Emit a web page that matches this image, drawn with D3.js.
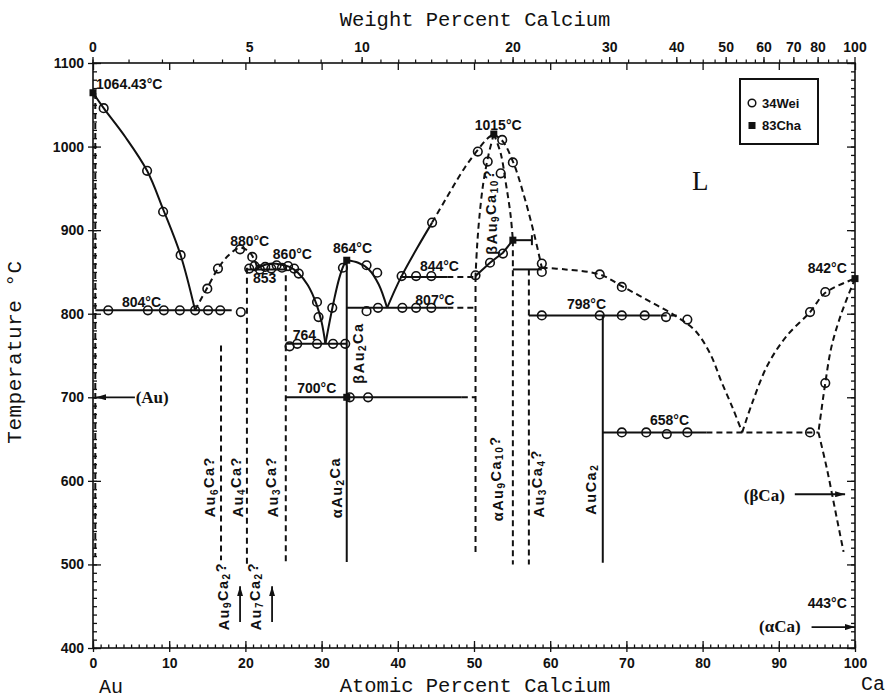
<!DOCTYPE html>
<html>
<head>
<meta charset="utf-8">
<script src="https://cdn.jsdelivr.net/npm/d3@7"></script>
<style>
body { margin: 0; background: #fff; }
text { font-family: "Liberation Sans", Arial, sans-serif; font-weight: bold; fill: #111; }
text.mono { font-family: "Liberation Mono", "DejaVu Sans Mono", monospace; font-weight: normal; }
text.serif { font-family: "Liberation Serif", "DejaVu Serif", serif; }
</style>
</head>
<body>
<svg id="chart" width="885" height="700"></svg>
<script>
// Au-Ca phase diagram (at.% Ca vs temperature)
//
var tempTicks = d3.range(400, 1101, 100);
var atTicks = d3.range(0, 101, 10);
var wtTicks = [0, 5, 10, 20, 30, 40, 50, 60, 70, 80, 100];

// solid smooth boundaries [at.% Ca, degC]
var auLiquidus = [[0,1064.43],[1.4,1046],[4.2,1012],[7.1,971],[9.2,925],[11.5,870],[13.4,804]];
var liq860 = [[21.3,853],[22.4,858],[23.5,860],[24.6,859],[25.8,856],[26.9,849],[28.2,834],[29.3,812],[30,790],[30.5,764]];
var au2CaLeft = [[30.5,764],[31,788],[31.6,815],[32.3,842],[32.9,858],[33.3,864]];
var au2CaRight = [[33.3,864],[34.8,861],[36.2,853],[37.5,835],[38.6,807]];
var liqRise = [[38.6,807],[39.6,828],[40.5,845],[42.5,878],[44.5,909]];

// dashed smooth boundaries
var dome880 = [[13.4,804],[14.2,818],[15,831],[16.4,854],[17.8,870],[19.3,879],[20.5,874],[21.3,862],[21.6,853]];
var liqTop = [[44.5,909],[46.8,945],[48.8,975],[50.5,996],[51.8,1010],[52.6,1015]];
var innerLeft = [[52.6,1015],[51.9,990],[51.2,955],[50.7,915],[50.4,880],[50.2,845]];
var innerRight = [[52.6,1015],[53.5,992],[54.2,955],[54.8,918],[55.1,888]];
var outerRight = [[52.6,1015],[53.8,1006],[55.2,980],[56.6,940],[57.9,895],[58.9,855]];
var caRichLiq = [[58.9,855],[62,853],[66.5,847],[69.4,833],[73,815],[76.5,797],[79,780],[81,752],[82.5,718],[84,686],[85.2,658]];
var caLiq = [[85.2,658],[86.5,693],[88.5,738],[91,773],[94.1,802],[96.1,825],[100,842]];
var caSolvusHigh = [[100,842],[98.2,800],[96.9,760],[96.1,717],[95.6,685],[95.2,658]];
var caSolvusLow = [[95.2,658],[96.3,615],[97.4,565],[98.5,515]];

// straight solid lines
var solidSegs = [
  [[0.3,804],[18.2,804]],
  [[20.2,853],[25.3,853]],
  [[25.3,764],[33.3,764]],
  [[25.3,700],[48.4,700]],
  [[33.3,807],[46.5,807]],
  [[40.3,844],[46.5,844]],
  [[33.3,864],[33.3,503]],
  [[50.2,845],[52.1,861],[53.8,873],[55.1,888]],
  [[55.1,888],[57.6,888]],
  [[57.6,882],[57.6,894]],
  [[55.1,853],[58.9,853]],
  [[57.2,798],[74.5,798]],
  [[66.9,798],[66.9,502]],
  [[66.9,658],[80.5,658]]
];

// straight dashed lines
var dashSegs = [
  [[0.3,1064],[0.3,509]],
  [[16.8,762],[16.8,505]],
  [[20.2,855],[20.2,500]],
  [[25.3,858],[25.3,502]],
  [[50.2,845],[50.2,514]],
  [[55.1,888],[55.1,500]],
  [[57.2,853],[57.2,500]],
  [[48.4,700],[50.2,700]],
  [[46.5,807],[50.2,807]],
  [[46.5,844],[50.2,844]],
  [[74.5,798],[77,798]],
  [[80.5,658],[95.2,658]]
];

// 34Wei data points (open circles)
var wei34 = [
  [1.4,1046],[7.1,971],[9.2,922],[11.5,870],
  [2.0,804],[7.2,804],[9.3,804],[11.4,804],[13.4,804],[15.1,804],[16.7,804],[19.4,802],
  [15.0,830],[16.4,854],[19.3,877],[20.9,868],
  [20.5,854],[21.2,857],[21.9,853],[22.6,856],[23.4,854],[24.1,858],[24.8,855],[25.6,857],[26.4,854],[27.0,848],
  [29.4,814],[29.6,796],
  [25.8,761],[26.8,764],[29.4,764],[31.5,764],[33.1,764],
  [31.4,807],[32.8,855],[35.9,858],[37.3,849],
  [35.9,803],[37.4,807],[40.6,807],[42.4,807],[44.4,807],
  [40.5,845],[42.4,845],[44.4,845],
  [33.7,700],[36.1,700],
  [44.5,909],[50.5,994],
  [51.8,982],[53.7,1008],[53.5,968],[55.1,981],
  [50.2,846],[52.1,861],[53.8,872],
  [58.9,860],[58.9,850],
  [66.5,847],[69.4,832],[78,793],
  [58.9,798],[66.5,798],[69.4,798],[72.4,798],[75.2,796],
  [69.4,658],[72.6,658],[75.3,656],[78,658],[94.1,658],
  [94.1,802],[96.1,826],[96.1,717]
];

// 83Cha data points (filled squares)
var cha83 = [[0,1064.43],[52.6,1015],[55.1,888],[100,842],[33.3,700],[33.3,864]];

// temperature labels
var tempLabels = [
  {t: "1064.43°C", x: 0.4, T: 1069},
  {t: "880°C", x: 18.0, T: 881},
  {t: "860°C", x: 23.6, T: 865},
  {t: "853", x: 21.0, T: 837},
  {t: "864°C", x: 31.5, T: 873},
  {t: "804°C", x: 3.8, T: 808},
  {t: "764", x: 26.2, T: 768},
  {t: "700°C", x: 26.8, T: 705},
  {t: "807°C", x: 42.3, T: 811},
  {t: "844°C", x: 42.9, T: 851},
  {t: "1015°C", x: 50.1, T: 1020},
  {t: "798°C", x: 62.2, T: 806},
  {t: "658°C", x: 73.1, T: 667},
  {t: "842°C", x: 93.8, T: 849},
  {t: "443°C", x: 93.8, T: 448}
];
// solid solution names
var ssLabels = [
  {t: "(αCa)", x: 87.4, T: 419},
  {t: "(βCa)", x: 85.4, T: 576},
  {t: "(Au)", x: 5.6, T: 693}
];
var phaseLabels = [
  {t: "Au_6Ca?", x: 15.4, T: 593},
  {t: "Au_4Ca?", x: 19.0, T: 593},
  {t: "Au_3Ca?", x: 23.6, T: 593},
  {t: "Au_9Ca_2?", x: 17.2, T: 462},
  {t: "Au_7Ca_2?", x: 21.4, T: 462},
  {t: "αAu_2Ca", x: 32.0, T: 592},
  {t: "βAu_2Ca", x: 34.9, T: 753},
  {t: "βAu_9Ca_10?", x: 52.4, T: 922},
  {t: "αAu_9Ca_10?", x: 53.1, T: 603},
  {t: "Au_3Ca_4?", x: 58.5, T: 597},
  {t: "AuCa_2", x: 65.3, T: 590}
];
var arrows = [
  [[5.5,700],[0.4,700]],
  [[92.1,584],[98.7,584]],
  [[94.3,425],[100,425]],
  [[19.3,431],[19.3,474]],
  [[23.5,431],[23.5,474]]
];

var margin = {left: 93, top: 63, right: 30, bottom: 52};
var W = 885 - margin.left - margin.right, H = 700 - margin.top - margin.bottom;
var svg = d3.select('#chart');
var g = svg.append('g').attr('transform', 'translate(' + margin.left + ',' + margin.top + ')');
var x = d3.scaleLinear().domain([0, 100]).range([0, W]);
var y = d3.scaleLinear().domain([400, 1100]).range([H, 0]);

// weight percent -> atomic percent
function atFromWt(w) {
  var a = w / 40.08, b = (100 - w) / 196.967;
  return 100 * a / (a + b);
}

// frame and axes
g.append('rect').attr('width', W).attr('height', H).attr('fill', 'none').attr('stroke', '#111').attr('stroke-width', 1.6);

function axisStyle(sel) {
  sel.select('.domain').remove();
  sel.selectAll('line').attr('stroke', '#111').attr('stroke-width', 1.3);
  sel.selectAll('text').attr('font-size', 14).attr('fill', '#111');
}
var fmt = d3.format('d');
g.append('g').call(d3.axisLeft(y).tickValues(tempTicks).tickSize(5).tickPadding(4).tickFormat(fmt)).call(axisStyle);
g.append('g').call(d3.axisRight(y).tickValues(tempTicks).tickSize(8).tickFormat('')).call(axisStyle);
g.append('g').call(d3.axisRight(y).tickValues(d3.range(400, 1101, 10)).tickSize(4).tickFormat('')).call(axisStyle);
g.append('g').attr('transform', 'translate(' + W + ',0)').call(d3.axisLeft(y).tickValues(tempTicks).tickSize(8).tickFormat('')).call(axisStyle);
g.append('g').attr('transform', 'translate(' + W + ',0)').call(d3.axisLeft(y).tickValues(d3.range(400, 1101, 10)).tickSize(4).tickFormat('')).call(axisStyle);

g.append('g').attr('transform', 'translate(0,' + H + ')').call(d3.axisBottom(x).tickValues(atTicks).tickSize(4).tickPadding(6).tickFormat(fmt)).call(axisStyle);
g.append('g').attr('transform', 'translate(0,' + H + ')').call(d3.axisTop(x).tickValues(atTicks).tickSize(7).tickFormat('')).call(axisStyle);
g.append('g').attr('transform', 'translate(0,' + H + ')').call(d3.axisTop(x).tickValues(d3.range(0, 101, 1)).tickSize(3.5).tickFormat('')).call(axisStyle);
g.append('g').call(d3.axisBottom(x).tickValues(atTicks).tickSize(7).tickFormat('')).call(axisStyle);

var wtMinor = d3.range(0, 30, 1).concat(d3.range(30, 60, 2.5), d3.range(60, 100, 5));
var xw = function(w) { return x(atFromWt(w)); };
var wtAxis = g.append('g');
wtAxis.selectAll('line.minor').data(wtMinor).enter().append('line')
  .attr('class', 'minor')
  .attr('x1', xw).attr('x2', xw).attr('y1', 0).attr('y2', -3.5)
  .attr('stroke', '#111').attr('stroke-width', 1.2);
wtAxis.selectAll('line.major').data(wtTicks).enter().append('line')
  .attr('class', 'major')
  .attr('x1', xw).attr('x2', xw).attr('y1', 0).attr('y2', -6)
  .attr('stroke', '#111').attr('stroke-width', 1.3);
wtAxis.selectAll('text').data(wtTicks).enter().append('text')
  .attr('x', xw).attr('y', -11).attr('text-anchor', 'middle').attr('font-size', 14)
  .text(function(d) { return d; });

// axis titles
svg.append('text').attr('class', 'mono').attr('x', 475).attr('y', 26).attr('text-anchor', 'middle')
  .attr('font-size', 20.5).text('Weight Percent Calcium');
svg.append('text').attr('class', 'mono').attr('x', 475).attr('y', 692).attr('text-anchor', 'middle')
  .attr('font-size', 20.5).text('Atomic Percent Calcium');
svg.append('text').attr('class', 'mono').attr('x', 111).attr('y', 693).attr('text-anchor', 'middle')
  .attr('font-size', 20).text('Au');
svg.append('text').attr('class', 'mono').attr('x', 873).attr('y', 690).attr('text-anchor', 'middle')
  .attr('font-size', 20).text('Ca');
svg.append('text').attr('class', 'mono').attr('transform', 'translate(21,352) rotate(-90)')
  .attr('text-anchor', 'middle').attr('font-size', 21).attr('letter-spacing', 0.5).text('Temperature °C');

// boundaries
var smooth = d3.line().x(function(d) { return x(d[0]); }).y(function(d) { return y(d[1]); })
  .curve(d3.curveCatmullRom.alpha(0.5));
var straight = d3.line().x(function(d) { return x(d[0]); }).y(function(d) { return y(d[1]); });
var plot = g.append('g').attr('fill', 'none').attr('stroke', '#111').attr('stroke-width', 2);

plot.selectAll('path.sc').data([auLiquidus, liq860, au2CaLeft, au2CaRight, liqRise])
  .enter().append('path').attr('class', 'sc').attr('d', smooth);
plot.selectAll('path.ss').data(solidSegs).enter().append('path').attr('class', 'ss').attr('d', straight);
plot.selectAll('path.dc').data([dome880, liqTop, innerLeft, innerRight, outerRight, caRichLiq, caLiq, caSolvusHigh, caSolvusLow])
  .enter().append('path').attr('class', 'dc').attr('d', smooth).attr('stroke-dasharray', '6,4');
plot.selectAll('path.ds').data(dashSegs).enter().append('path').attr('class', 'ds').attr('d', straight).attr('stroke-dasharray', '6,4');

// arrows
svg.append('defs').append('marker').attr('id', 'ah').attr('viewBox', '0 0 10 6')
  .attr('refX', 10).attr('refY', 3).attr('markerWidth', 10).attr('markerHeight', 6)
  .attr('markerUnits', 'userSpaceOnUse').attr('orient', 'auto')
  .append('path').attr('d', 'M0,0L10,3L0,6Z').attr('fill', '#111');
g.append('g').selectAll('path').data(arrows).enter().append('path')
  .attr('d', straight).attr('stroke', '#111').attr('stroke-width', 1.8).attr('fill', 'none')
  .attr('marker-end', 'url(#ah)');

// data points
g.append('g').selectAll('circle').data(wei34).enter().append('circle')
  .attr('cx', function(d) { return x(d[0]); }).attr('cy', function(d) { return y(d[1]); })
  .attr('r', 4.3).attr('fill', 'none').attr('stroke', '#111').attr('stroke-width', 1.6);
g.append('g').selectAll('rect').data(cha83).enter().append('rect')
  .attr('x', function(d) { return x(d[0]) - 3.5; }).attr('y', function(d) { return y(d[1]) - 3.5; })
  .attr('width', 7).attr('height', 7).attr('fill', '#111');

// labels
g.append('g').selectAll('text').data(tempLabels).enter().append('text')
  .attr('x', function(d) { return x(d.x); }).attr('y', function(d) { return y(d.T); })
  .attr('font-size', 14).text(function(d) { return d.t; });
g.append('g').selectAll('text').data(ssLabels).enter().append('text')
  .attr('class', 'serif')
  .attr('x', function(d) { return x(d.x); }).attr('y', function(d) { return y(d.T); })
  .attr('font-size', 17).text(function(d) { return d.t; });
g.append('text').attr('x', x(79.7)).attr('y', y(948)).attr('text-anchor', 'middle')
  .style('font-family', '"Liberation Serif", serif').style('font-weight', 'normal').attr('font-size', 27).text('L');

// rotated phase names, "_n" is a subscript
function richText(sel, str) {
  var parts = str.split(/_(\d+)/);
  parts.forEach(function(p, i) {
    if (p === '') return;
    if (i % 2 === 1) {
      sel.append('tspan').attr('dy', '0.32em').attr('font-size', 10).text(p);
    } else {
      var t = sel.append('tspan').text(p);
      if (i > 0) t.attr('dy', '-0.32em');
    }
  });
}
g.append('g').selectAll('text').data(phaseLabels).enter().append('text')
  .attr('transform', function(d) { return 'translate(' + x(d.x) + ',' + y(d.T) + ') rotate(-90)'; })
  .attr('text-anchor', 'middle').attr('dominant-baseline', 'central')
  .attr('font-size', 14.5).attr('letter-spacing', 1.5)
  .each(function(d) { richText(d3.select(this), d.t); });

// legend
var lg = svg.append('g').attr('transform', 'translate(740,79)');
lg.append('rect').attr('width', 78).attr('height', 65).attr('fill', '#fff').attr('stroke', '#111').attr('stroke-width', 2);
lg.append('circle').attr('cx', 12).attr('cy', 24).attr('r', 3.8).attr('fill', 'none').attr('stroke', '#111').attr('stroke-width', 1.5);
lg.append('text').attr('x', 22).attr('y', 29).attr('font-size', 13).text('34Wei');
lg.append('rect').attr('x', 8.5).attr('y', 43).attr('width', 7).attr('height', 7).attr('fill', '#111');
lg.append('text').attr('x', 22).attr('y', 51).attr('font-size', 13).text('83Cha');
</script>
</body>
</html>
